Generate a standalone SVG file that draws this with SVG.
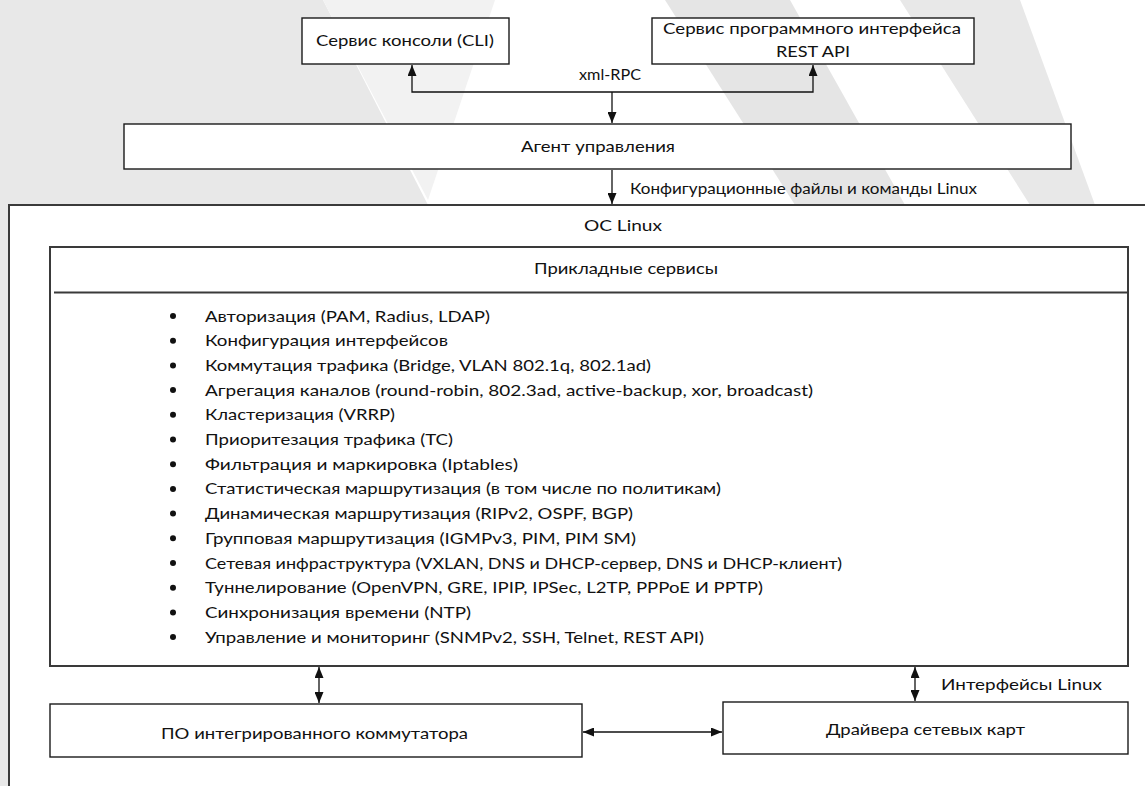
<svg xmlns="http://www.w3.org/2000/svg" width="1145" height="786" viewBox="0 0 1145 786">
<style>
.t{font-family:Lato,"Open Sans","Liberation Sans",sans-serif;font-size:16px;fill:#111}
.box{fill:#fff;stroke:#1a1a1a;stroke-width:1.4}
.big{fill:#fff;stroke:#3a3a3a;stroke-width:2}
.ln{stroke:#111;stroke-width:1.3;fill:none}
.w1{fill:#e8e8e8}
.w2{fill:#f2f2f2}
.w3{fill:#e5e5e5}
.dot{fill:#111}
</style>
<defs>
<marker id="ah" viewBox="0 0 11 9" refX="11" refY="4.5" markerWidth="11" markerHeight="9" markerUnits="userSpaceOnUse" orient="auto-start-reverse">
<path d="M0,0 L11,4.5 L0,9 z" fill="#111"/>
</marker>
</defs>
<rect width="1145" height="786" fill="#fff"/>
<g id="watermark">
<polygon class="w1" points="0,0 323,0 428,205 0,205"/>
<polygon class="w2" points="323,0 495,0 428,200"/>
<polygon class="w3" points="665,0 790,0 905,205 795,205"/>
<polygon class="w1" points="900,0 1020,0 1095,205 1030,205"/>
<rect class="w1" x="0" y="205" width="10" height="581"/>
</g>
<g id="connectors">
<path class="ln" d="M412,65 V92 H813 V65" marker-start="url(#ah)" marker-end="url(#ah)"/>
<path class="ln" d="M612,92 V123" marker-end="url(#ah)"/>
<path class="ln" d="M612,170 V204" marker-end="url(#ah)"/>
<text class="t" x="579" y="80" textLength="62" lengthAdjust="spacingAndGlyphs">xml-RPC</text>
<text class="t" x="630" y="194" textLength="347" lengthAdjust="spacingAndGlyphs">Конфигурационные файлы  и команды Linux</text>
</g>
<g id="cli">
<rect class="box" x="302" y="18" width="207" height="46"/>
<text class="t" x="316" y="46" textLength="178" lengthAdjust="spacingAndGlyphs">Сервис консоли (CLI)</text>
</g>
<g id="rest">
<rect class="box" x="652" y="18" width="322" height="46"/>
<text class="t" x="663" y="34" textLength="298" lengthAdjust="spacingAndGlyphs">Сервис программного интерфейса</text>
<text class="t" x="776" y="57" textLength="74" lengthAdjust="spacingAndGlyphs">REST API</text>
</g>
<g id="agent">
<rect class="box" x="124" y="124" width="947" height="45"/>
<text class="t" x="521" y="152" textLength="154" lengthAdjust="spacingAndGlyphs">Агент управления</text>
</g>
<g id="os">
<rect class="big" x="9" y="205" width="1160" height="620"/>
<text class="t" x="584" y="231" textLength="78" lengthAdjust="spacingAndGlyphs">ОС  Linux</text>
</g>
<g id="services">
<rect class="big" x="50" y="247" width="1078" height="419"/>
<line x1="54" y1="292.5" x2="1128" y2="292.5" stroke="#3a3a3a" stroke-width="2"/>
<text class="t" x="534" y="274" textLength="184" lengthAdjust="spacingAndGlyphs">Прикладные сервисы</text>
<g class="dot">
<circle cx="173" cy="316" r="3"/><circle cx="173" cy="340.7" r="3"/><circle cx="173" cy="365.4" r="3"/><circle cx="173" cy="390.1" r="3"/><circle cx="173" cy="414.8" r="3"/><circle cx="173" cy="439.5" r="3"/><circle cx="173" cy="464.2" r="3"/><circle cx="173" cy="488.9" r="3"/><circle cx="173" cy="513.6" r="3"/><circle cx="173" cy="538.3" r="3"/><circle cx="173" cy="563" r="3"/><circle cx="173" cy="587.7" r="3"/><circle cx="173" cy="612.4" r="3"/><circle cx="173" cy="637.1" r="3"/>
</g>
<text class="t" x="205" y="321.5" textLength="285" lengthAdjust="spacingAndGlyphs">Авторизация (PAM, Radius, LDAP)</text>
<text class="t" x="205" y="346.2" textLength="243" lengthAdjust="spacingAndGlyphs">Конфигурация интерфейсов</text>
<text class="t" x="205" y="370.9" textLength="446" lengthAdjust="spacingAndGlyphs">Коммутация трафика (Bridge, VLAN 802.1q, 802.1ad)</text>
<text class="t" x="205" y="395.6" textLength="608" lengthAdjust="spacingAndGlyphs">Агрегация каналов (round-robin, 802.3ad, active-backup, xor, broadcast)</text>
<text class="t" x="205" y="420.3" textLength="190" lengthAdjust="spacingAndGlyphs">Кластеризация (VRRP)</text>
<text class="t" x="205" y="445" textLength="248" lengthAdjust="spacingAndGlyphs">Приоритезация трафика (TC)</text>
<text class="t" x="205" y="469.7" textLength="313" lengthAdjust="spacingAndGlyphs">Фильтрация и маркировка (Iptables)</text>
<text class="t" x="205" y="494.4" textLength="516" lengthAdjust="spacingAndGlyphs">Статистическая маршрутизация (в том числе по политикам)</text>
<text class="t" x="205" y="519.1" textLength="428" lengthAdjust="spacingAndGlyphs">Динамическая маршрутизация (RIPv2, OSPF, BGP)</text>
<text class="t" x="205" y="543.8" textLength="431" lengthAdjust="spacingAndGlyphs">Групповая маршрутизация (IGMPv3, PIM, PIM SM)</text>
<text class="t" x="205" y="568.5" textLength="637" lengthAdjust="spacingAndGlyphs">Сетевая инфраструктура (VXLAN, DNS и DHCP-сервер, DNS и DHCP-клиент)</text>
<text class="t" x="205" y="593.2" textLength="558" lengthAdjust="spacingAndGlyphs">Туннелирование (OpenVPN,  GRE, IPIP, IPSec, L2TP, PPPoE И PPTP)</text>
<text class="t" x="205" y="617.9" textLength="266" lengthAdjust="spacingAndGlyphs">Синхронизация времени (NTP)</text>
<text class="t" x="205" y="642.6" textLength="499" lengthAdjust="spacingAndGlyphs">Управление и мониторинг (SNMPv2, SSH, Telnet, REST API)</text>
</g>
<g id="connectors2">
<path class="ln" d="M319,667 V703" marker-start="url(#ah)" marker-end="url(#ah)"/>
<path class="ln" d="M915,667 V701" marker-start="url(#ah)" marker-end="url(#ah)"/>
<path class="ln" d="M583,732 H722" marker-start="url(#ah)" marker-end="url(#ah)"/>
<text class="t" x="941" y="690" textLength="161" lengthAdjust="spacingAndGlyphs">Интерфейсы  Linux</text>
</g>
<g id="switch">
<rect class="box" x="50" y="704" width="532" height="53"/>
<text class="t" x="161" y="739" textLength="307" lengthAdjust="spacingAndGlyphs">ПО интегрированного коммутатора</text>
</g>
<g id="drivers">
<rect class="box" x="723" y="702" width="405" height="52"/>
<text class="t" x="826" y="735" textLength="199" lengthAdjust="spacingAndGlyphs">Драйвера сетевых карт</text>
</g>
</svg>
